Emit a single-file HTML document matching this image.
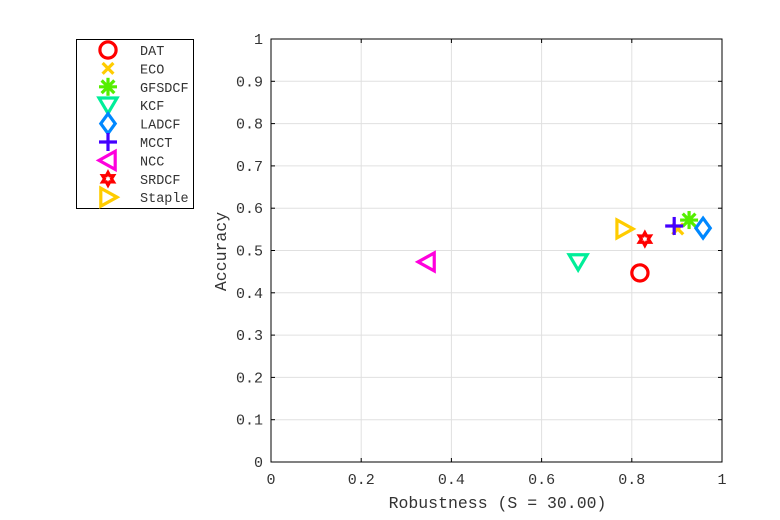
<!DOCTYPE html>
<html><head><meta charset="utf-8"><style>
body{margin:0;background:#fff;}
svg{display:block;font-family:"Liberation Mono",monospace;}
</style></head><body>
<svg id="chart" width="780" height="520"></svg>
<script>
const trackers=["DAT","ECO","GFSDCF","KCF","LADCF","MCCT","NCC","SRDCF","Staple"];
const robustness=[0.818,0.902,0.927,0.681,0.958,0.894,0.346,0.829,0.783];
const accuracy=[0.447,0.551,0.572,0.473,0.553,0.558,0.473,0.527,0.551];
const xTicks=[0,0.2,0.4,0.6,0.8,1];
const yTicks=[0,0.1,0.2,0.3,0.4,0.5,0.6,0.7,0.8,0.9,1];
const colors=["#ff0000","#ffcc00","#55ee00","#00ee99","#0088ff","#4400ff","#ff00dd","#ff0000","#ffcc00"];
const shapes=["circle","x","star","down","diamond","plus","left","hex","right"];
const NS="http://www.w3.org/2000/svg";
const svg=document.getElementById('chart');
const L=271,R=722,T=39,B=462;
const sx=v=>L+v*(R-L), sy=v=>B-v*(B-T);
function mk(tag,attrs,parent){const e=document.createElementNS(NS,tag);for(const k in attrs)e.setAttribute(k,attrs[k]);(parent||svg).appendChild(e);return e;}
xTicks.forEach(t=>{const g=mk('line',{x1:sx(t),x2:sx(t),y1:T,y2:B,stroke:'#e0e0e0'});


mk('line',{x1:sx(t),x2:sx(t),y1:B,y2:B-4,stroke:'#000'});mk('line',{x1:sx(t),x2:sx(t),y1:T,y2:T+4,stroke:'#000'});
const tx=mk('text',{x:sx(t),y:B+22,'text-anchor':'middle','font-size':15,fill:'#333'});tx.textContent=String(t);

});
yTicks.forEach(t=>{const g=mk('line',{x1:L,x2:R,y1:sy(t),y2:sy(t),stroke:'#e0e0e0'});


mk('line',{x1:L,x2:L+4,y1:sy(t),y2:sy(t),stroke:'#000'});mk('line',{x1:R,x2:R-4,y1:sy(t),y2:sy(t),stroke:'#000'});
const tx=mk('text',{x:L-8,y:sy(t)+5,'text-anchor':'end','font-size':15,fill:'#333'});tx.textContent=String(t);

});
const frame=mk('rect',{x:L,y:T,width:R-L,height:B-T,fill:'none',stroke:'#000'});


const xt=mk('text',{x:(L+R)/2+1,y:508,'text-anchor':'middle','font-size':16.5,fill:'#333'});xt.textContent='Robustness (S = 30.00)';


const yt=mk('text',{x:0,y:0,'text-anchor':'middle','font-size':16.5,fill:'#333',transform:`translate(226,${(T+B)/2+1}) rotate(-90)`});yt.textContent='Accuracy';


function marker(shape,cx,cy,c,s){const g=mk('g',{stroke:c,'stroke-width':3.2,fill:'none'});
if(shape==='circle')mk('circle',{cx,cy,r:s*0.9},g);
else if(shape==='x'){mk('line',{x1:cx-s*0.6,y1:cy-s*0.6,x2:cx+s*0.6,y2:cy+s*0.6},g);mk('line',{x1:cx-s*0.6,y1:cy+s*0.6,x2:cx+s*0.6,y2:cy-s*0.6},g);}
else if(shape==='plus'){mk('line',{x1:cx-s,y1:cy,x2:cx+s,y2:cy},g);mk('line',{x1:cx,y1:cy-s,x2:cx,y2:cy+s},g);}
else if(shape==='star'){for(let i=0;i<4;i++){const a=i*Math.PI/4;mk('line',{x1:cx-s*Math.cos(a),y1:cy-s*Math.sin(a),x2:cx+s*Math.cos(a),y2:cy+s*Math.sin(a)},g);}}
else if(shape==='down')mk('polygon',{points:`${cx-s},${cy-s*0.8} ${cx+s},${cy-s*0.8} ${cx},${cy+s*0.9}`},g);
else if(shape==='left')mk('polygon',{points:`${cx-s},${cy} ${cx+s*0.8},${cy-s} ${cx+s*0.8},${cy+s}`},g);
else if(shape==='right')mk('polygon',{points:`${cx+s},${cy} ${cx-s*0.8},${cy-s} ${cx-s*0.8},${cy+s}`},g);
else if(shape==='diamond')mk('polygon',{points:`${cx},${cy-s*1.1} ${cx+s*0.8},${cy} ${cx},${cy+s*1.1} ${cx-s*0.8},${cy}`},g);
else if(shape==='hex'){let p=[];for(let i=0;i<12;i++){const r=i%2?s*0.5:s*0.9,a=-Math.PI/2+i*Math.PI/6;p.push((cx+r*Math.cos(a))+','+(cy+r*Math.sin(a)));}mk('polygon',{points:p.join(' ')},g);}
return g;}
trackers.forEach((n,i)=>{const g=marker(shapes[i],sx(robustness[i]),sy(accuracy[i]),colors[i],i===7?7:9);

});
const lg=mk('g',{});


mk('rect',{x:76.5,y:39.5,width:117,height:169,fill:'#fff',stroke:'#000'},lg);
trackers.forEach((n,i)=>{const y=50+i*18.4;const g=marker(shapes[i],108,y,colors[i],i===7?7:9);lg.appendChild(g);


const t=mk('text',{x:140,y:y+5,'font-size':13.5,fill:'#333'},lg);t.textContent=n;

});
</script>
</body></html>
